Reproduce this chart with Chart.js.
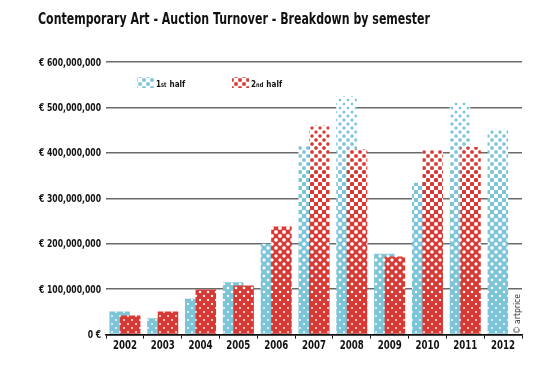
<!DOCTYPE html>
<html>
<head>
<meta charset="utf-8">
<script src="https://cdn.jsdelivr.net/npm/chart.js@4.4.1/dist/chart.umd.min.js"></script>
<style>
html,body{margin:0;padding:0;background:#fff;}
#wrap{position:relative;width:550px;height:368px;}
</style>
</head>
<body>
<div id="wrap"><canvas id="c" width="550" height="368"></canvas></div>
<script>
// ---- data (values in millions of euros) ----
const categories = ['2002','2003','2004','2005','2006','2007','2008','2009','2010','2011','2012'];
const firstHalf  = [51, 36, 79, 115, 200, 415, 524, 178, 334, 511, 452];
const secondHalf = [42, 51, 99, 108, 238, 461, 408, 172, 406, 413, null];
const seriesLabels = ['1st half', '2nd half'];
const titleText = 'Contemporary Art - Auction Turnover - Breakdown by semester';
const creditText = '© artprice';

const NARROW = "'Liberation Sans Narrow', 'DejaVu Sans Condensed', sans-serif";
const yLabel = v => v === 0 ? '0 €' : '€ ' + Number(v).toLocaleString('en-US');

const ctx = document.getElementById('c').getContext('2d');
function natWidth(text, weight, size){
  ctx.font = weight + ' ' + size + 'px ' + NARROW;
  return ctx.measureText(text).width;
}
// horizontal squeeze factors so the text keeps the reference height and width
const Y_SIZE = 10, X_SIZE = 12, T_SIZE = 16.5, L_SIZE = 9.5;
const ySx = Math.min(1, 62 / natWidth('€ 600,000,000', 'bold', Y_SIZE));
const xSx = Math.min(1, 24 / natWidth('2002', 'bold', X_SIZE));
const tSx = Math.min(1, 392 / natWidth(titleText, 'bold', T_SIZE));

function drawText(c, text, x, y, size, weight, sx, align){
  c.save();
  c.translate(x, y);
  c.scale(sx, 1);
  c.font = weight + ' ' + size + 'px ' + NARROW;
  c.textAlign = align;
  c.textBaseline = 'alphabetic';
  c.fillText(text, 0, 0);
  c.restore();
}

// ---- halftone pattern (coverage varies with canvas y) ----
const PERIOD = 8;
function coverageAt(y){
  const c = 0.2 + 0.65 * (y - 110) / 180;
  return Math.max(0.14, Math.min(0.92, c));
}
const spotSorted = (function(){
  const arr = [];
  const N = 64;
  for (let i = 0; i < N; i++) for (let j = 0; j < N; j++) {
    arr.push(Math.cos(2*Math.PI*(i+0.5)/N) + Math.cos(2*Math.PI*(j+0.5)/N));
  }
  arr.sort((a,b)=>b-a);
  return arr;
})();
function thresholdFor(c){
  const idx = Math.max(0, Math.min(spotSorted.length-1, Math.floor(c*spotSorted.length)));
  return spotSorted[idx];
}
function makeHalftone(rgb, covFn){
  const W = PERIOD, H = 376;
  const cv = document.createElement('canvas');
  cv.width = W; cv.height = H;
  const g = cv.getContext('2d');
  const img = g.createImageData(W, H);
  const S = 4;
  for (let py = 0; py < H; py++) {
    const T = thresholdFor(covFn(py + 0.5));
    for (let px = 0; px < W; px++) {
      let n = 0;
      for (let i = 0; i < S; i++) for (let j = 0; j < S; j++) {
        const x = px + (i+0.5)/S, y = py + (j+0.5)/S;
        const a = (x + y) / PERIOD, b = (x - y) / PERIOD;
        const s = Math.cos(2*Math.PI*a) + Math.cos(2*Math.PI*b);
        if (s > T) n++;
      }
      const f = n / (S*S);
      const k = (py*W + px) * 4;
      img.data[k]   = Math.round(255*(1-f) + rgb[0]*f);
      img.data[k+1] = Math.round(255*(1-f) + rgb[1]*f);
      img.data[k+2] = Math.round(255*(1-f) + rgb[2]*f);
      img.data[k+3] = 255;
    }
  }
  g.putImageData(img, 0, 0);
  return g.createPattern(cv, 'repeat');
}
const BLUE = [124, 196, 216], RED = [215, 58, 52];
const bluePat = makeHalftone(BLUE, coverageAt);
const redPat  = makeHalftone(RED, coverageAt);
const blueLeg = makeHalftone(BLUE, () => 0.38);
const redLeg  = makeHalftone(RED, () => 0.38);

// ---- draw first series below second (reference stacking order) ----
const drawOrder = {
  id: 'drawOrder',
  beforeDatasetsDraw(chart){
    const metas = chart.getSortedVisibleDatasetMetas();
    for (const m of metas) {
      if (typeof chart._drawDataset === 'function') chart._drawDataset(m);
      else m.controller.draw();
    }
    return false;
  }
};

// ---- decorations: title, axis labels (condensed), legend, credit ----
const deco = {
  id: 'deco',
  afterDraw(chart){
    const c = chart.ctx;
    c.save();
    c.fillStyle = '#111';
    // title
    drawText(c, titleText, 38, 24, T_SIZE, 'bold', tSx, 'left');
    // y tick labels
    const ys = chart.scales.y;
    ys.ticks.forEach(t => {
      const py = ys.getPixelForValue(t.value);
      drawText(c, yLabel(t.value), 101, py + 3.6, Y_SIZE, 'bold', ySx, 'right');
    });
    // x tick labels
    const xs = chart.scales.x;
    categories.forEach((lab, i) => {
      const px = xs.getPixelForTick(i);
      drawText(c, lab, px, 349, X_SIZE, 'bold', xSx, 'center');
    });
    // legend
    seriesLabels.forEach((lab, i) => {
      const x0 = i === 0 ? 137 : 232;
      c.fillStyle = i === 0 ? blueLeg : redLeg;
      c.fillRect(x0, 77, 17, 11);
      c.fillStyle = '#111';
      const big = lab.slice(0,1), small = lab.slice(1,3), rest = lab.slice(3);
      let tx = x0 + 19;
      const sx = 0.85;
      drawText(c, big, tx, 87, L_SIZE, 'bold', sx, 'left');
      tx += natWidth(big, 'bold', L_SIZE) * sx;
      drawText(c, small, tx, 87, L_SIZE*0.7, 'bold', sx, 'left');
      tx += natWidth(small, 'bold', L_SIZE*0.7) * sx + 0.5;
      drawText(c, rest, tx, 87, L_SIZE, 'bold', sx, 'left');
    });
    // credit
    c.translate(518, 334);
    c.rotate(-Math.PI/2);
    c.font = '8.5px ' + NARROW;
    c.fillStyle = '#333';
    c.textBaseline = 'middle';
    c.fillText(creditText, 0, 0);
    c.restore();
  }
};

new Chart(ctx, {
  type: 'bar',
  data: {
    labels: categories,
    datasets: [
      { label: seriesLabels[0], data: firstHalf.map(v => v == null ? null : v * 1e6),
        backgroundColor: bluePat, borderWidth: 0, categoryPercentage: 0.556, barPercentage: 1.95 },
      { label: seriesLabels[1], data: secondHalf.map(v => v == null ? null : v * 1e6),
        backgroundColor: redPat, borderWidth: 0, categoryPercentage: 0.556, barPercentage: 1.95 }
    ]
  },
  options: {
    responsive: false,
    animation: false,
    devicePixelRatio: 1,
    layout: { padding: { top: 62, right: 28, left: 0, bottom: 0 } },
    plugins: { legend: { display: false }, tooltip: { enabled: false }, title: { display: false } },
    scales: {
      x: {
        afterFit(s){ s.height = 33.4; },
        grid: { display: true, offset: true, drawOnChartArea: false, drawTicks: true, tickLength: 4, color: '#111', lineWidth: 1 },
        border: { display: true, color: '#111', width: 1.5 },
        ticks: { display: false }
      },
      y: {
        z: 1,
        min: 0, max: 600e6,
        afterFit(s){ s.width = 106; },
        border: { display: false },
        grid: { drawTicks: false, lineWidth: 1.5,
          color: c => (c.tick && c.tick.value === 0) ? '#111' : '#6a6a6a' },
        ticks: { display: false, stepSize: 100e6, callback: yLabel }
      }
    }
  },
  plugins: [drawOrder, deco]
});
</script>
</body>
</html>
